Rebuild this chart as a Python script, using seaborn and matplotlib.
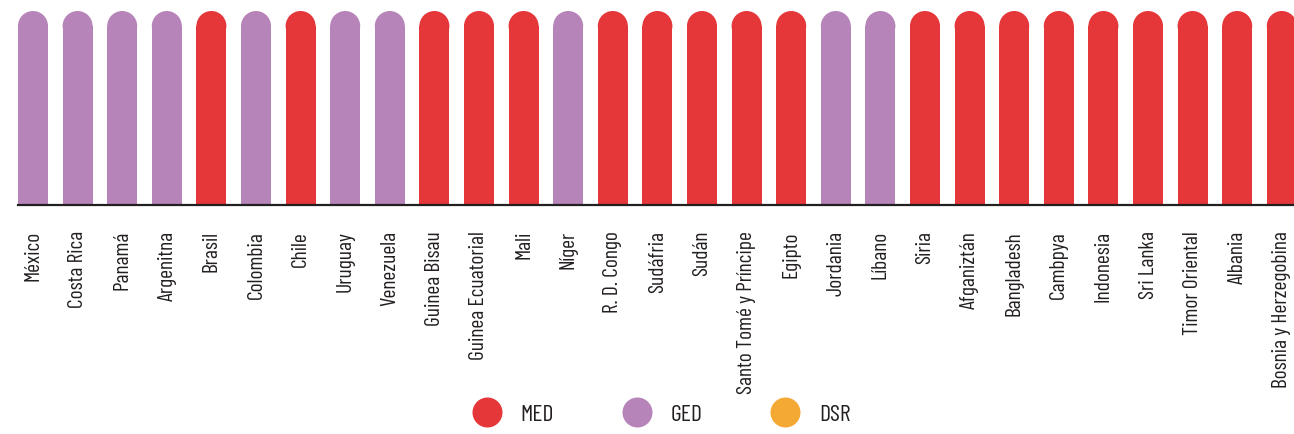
import matplotlib
matplotlib.use("Agg")
import matplotlib.pyplot as plt
import seaborn as sns
from matplotlib import font_manager
from matplotlib.patches import Ellipse
from matplotlib.lines import Line2D

countries = ["México", "Costa Rica", "Panamá", "Argenitna", "Brasil", "Colombia",
             "Chile", "Uruguay", "Venezuela", "Guinea Bisau", "Guinea Ecuatorial",
             "Mali", "Níger", "R. D. Congo", "Sudáfria", "Sudán",
             "Santo Tomé y Príncipe", "Egipto", "Jordania", "Líbano", "Siria",
             "Afganiztán", "Bangladesh", "Cambpya", "Indonesia", "Sri Lanka",
             "Timor Oriental", "Albania", "Bosnia y Herzegobina"]
groups = ["GED", "GED", "GED", "GED", "MED", "GED", "MED", "GED", "GED", "MED",
          "MED", "MED", "GED", "MED", "MED", "MED", "MED", "MED", "GED", "GED",
          "MED", "MED", "MED", "MED", "MED", "MED", "MED", "MED", "MED"]
values = [1] * len(countries)
legend_labels = ["MED", "GED", "DSR"]
colors = {"MED": "#E5363A", "GED": "#B784BA", "DSR": "#F4A934"}

sns.set_style("white")
installed = {f.name for f in font_manager.fontManager.ttflist}
fam = "Barlow Condensed" if "Barlow Condensed" in installed else "DejaVu Sans"
plt.rcParams["font.family"] = [fam, "DejaVu Sans"]
plt.rcParams["font.weight"] = "normal"

W, H = 1294, 435
fig = plt.figure(figsize=(W / 100, H / 100), dpi=100)
ax = fig.add_axes([18 / W, (H - 206) / H, (W - 18) / W, 194 / H])

bw = 30 / 44.6
sns.barplot(x=countries, y=values, hue=groups, palette=colors, dodge=False,
            legend=False, width=bw, ax=ax, saturation=1)

ax.set_ylim(0, 1)
ax.set_xlim(-bw / 2, -bw / 2 + (W - 18) / 44.6)

# rounded tops: radius 15 px
ry = 15 / 194
for p in list(ax.patches):
    if p.get_height() <= 0:
        continue
    c = p.get_facecolor()
    p.set_height(p.get_height() - ry)
    p.set_linewidth(0)
    cx = p.get_x() + p.get_width() / 2
    ax.add_patch(Ellipse((cx, 1 - ry), p.get_width(), 2 * ry, facecolor=c,
                         edgecolor="none", clip_on=False))

for s in ["top", "right", "left"]:
    ax.spines[s].set_visible(False)
ax.spines["bottom"].set_color("#231f20")
ax.spines["bottom"].set_linewidth(1.6)
ax.set_yticks([])
ax.set_ylabel("")
ax.set_xlabel("")
ax.tick_params(axis="x", length=0, pad=18, labelsize=15.5, labelcolor="#231f20")
plt.setp(ax.get_xticklabels(), rotation=90, va="top", ha="center")

handles = [Line2D([], [], marker="o", linestyle="none", markersize=21.6,
                  markerfacecolor=colors[g], markeredgecolor="none", label=g)
           for g in legend_labels]
fig.legend(handles=handles, loc="center", bbox_to_anchor=(657 / W, (H - 415) / H),
           ncol=3, frameon=False, fontsize=17, labelcolor="#231f20",
           handletextpad=0.44, columnspacing=2.5)

fig.savefig("out.png", dpi=100)
